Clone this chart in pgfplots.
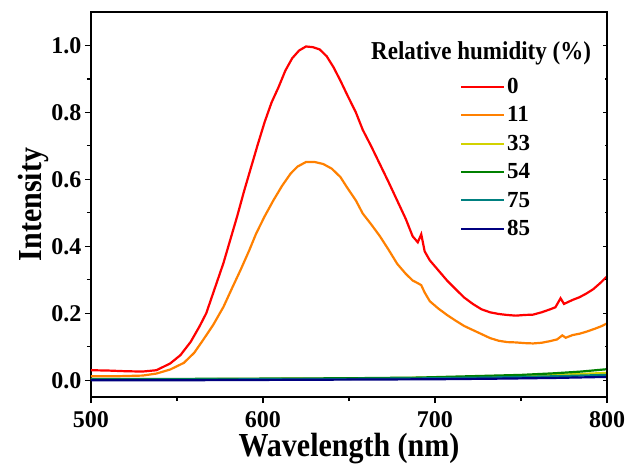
\documentclass[border=0pt]{standalone}
\usepackage{fontspec}
\setmainfont{Liberation Serif}
\usepackage{graphicx}
\usepackage{pgfplots}
\pgfplotsset{compat=1.18}
\definecolor{rh0}{RGB}{255,0,0}
\definecolor{rh11}{RGB}{255,128,0}
\definecolor{rh33}{RGB}{210,210,0}
\definecolor{rh54}{RGB}{0,128,0}
\definecolor{rh75}{RGB}{0,128,128}
\definecolor{rh85}{RGB}{0,0,128}

\pgfplotstableread{
x y
500 0.030
510 0.029
520 0.027
530 0.026
538 0.030
546 0.050
552 0.075
558 0.115
563 0.160
567 0.200
572 0.275
577 0.350
581 0.420
585 0.490
589 0.565
593 0.635
597 0.705
601 0.772
605 0.830
609 0.875
613 0.925
617 0.962
621 0.985
625 0.997
629 0.995
633 0.988
637 0.968
641 0.935
645 0.895
649 0.852
654 0.800
658 0.748
663 0.698
668 0.645
673 0.592
678 0.537
683 0.482
687 0.430
690 0.412
692 0.436
694 0.385
697 0.358
702 0.328
707 0.298
712 0.272
717 0.247
722 0.228
727 0.212
732 0.203
737 0.198
742 0.195
747 0.193
752 0.195
757 0.196
762 0.203
767 0.212
770 0.218
773 0.245
775 0.228
780 0.240
784 0.248
788 0.259
792 0.272
796 0.290
800 0.310
}\rhzero

\pgfplotstableread{
x y
500 0.012
515 0.012
530 0.014
538 0.020
546 0.032
554 0.052
560 0.082
565 0.119
571 0.165
577 0.219
582 0.275
587 0.330
592 0.388
596 0.438
601 0.490
606 0.537
611 0.580
616 0.617
620 0.638
625 0.652
630 0.652
635 0.646
640 0.632
645 0.607
649 0.575
654 0.537
658 0.498
663 0.465
668 0.430
673 0.390
678 0.348
683 0.318
687 0.298
690 0.290
692 0.284
694 0.262
697 0.236
702 0.214
707 0.195
712 0.178
717 0.162
722 0.150
727 0.138
732 0.126
737 0.118
742 0.114
747 0.113
752 0.111
757 0.110
762 0.112
767 0.117
771 0.122
774 0.134
776 0.127
780 0.135
784 0.139
788 0.145
793 0.154
797 0.162
800 0.170
}\rhelf

\pgfplotstableread{
x y
500 0.003
550 0.003
600 0.004
650 0.005
700 0.008
730 0.010
760 0.014
780 0.018
800 0.022
}\rhdrei

\pgfplotstableread{
x y
500 0.004
550 0.004
600 0.005
650 0.006
690 0.008
720 0.012
750 0.016
770 0.021
785 0.026
800 0.033
}\rhvier

\pgfplotstableread{
x y
500 0.002
550 0.002
600 0.003
650 0.004
700 0.006
740 0.009
770 0.012
800 0.016
}\rhfuenf

\pgfplotstableread{
x y
500 0.000
550 0.000
600 0.001
650 0.002
700 0.003
740 0.005
770 0.007
800 0.010
}\rhsechs

\begin{document}
\begin{tikzpicture}
\pgfplotsset{
  base/.style={
    scale only axis, width=516pt, height=385pt,
    xmin=500, xmax=800, ymin=-0.05, ymax=1.1,
    ytick={0,0.2,0.4,0.6,0.8,1.0},
    minor ytick={0.1,0.3,0.5,0.7,0.9},
    axis line style={line width=1.1pt},
    tick style={line width=1.1pt, black},
  }
}
\begin{axis}[
  base,
  xtick={500,600,700,800},
  minor xtick={550,650,750},
  tick align=outside,
  xtick pos=bottom, ytick pos=left,
  major tick length=6pt, minor tick length=4pt,
  /pgf/number format/assume math mode=true,
  yticklabel style={/pgf/number format/.cd, fixed, fixed zerofill, precision=1},
  xticklabel style={yshift=-5pt, /pgf/number format/.cd, fixed, set thousands separator={}},
  ticklabel style={font=\bfseries\fontsize{24}{24}\selectfont},
  xlabel={\scalebox{1}[1.12]{Wavelength (nm)}},
  ylabel={\scalebox{1}[1.12]{Intensity}},
  label style={font=\bfseries\fontsize{30}{30}\selectfont},
  xlabel style={yshift=1pt},
  ylabel style={yshift=-4pt},
  legend style={
    at={(rel axis cs:0.715,0.834)}, anchor=north west,
    draw=none, fill=none, inner sep=0pt,
    font=\bfseries\fontsize{23}{23}\selectfont,
    row sep=7.8pt,
    /tikz/every even column/.append style={column sep=0pt},
  },
  legend cell align=left,
  legend image code/.code={
    \draw[#1, line width=2pt] (0pt,0pt) -- (43pt,0pt);
  },
]
\addplot[rh0, line width=2.2pt] table {\rhzero};
\addplot[rh11, line width=2.2pt] table {\rhelf};
\addplot[rh33, line width=2.2pt] table {\rhdrei};
\addplot[rh54, line width=2.2pt] table {\rhvier};
\addplot[rh75, line width=2.2pt] table {\rhfuenf};
\addplot[rh85, line width=2.2pt] table {\rhsechs};
\legend{0,11,33,54,75,85}
\node[anchor=center, font=\bfseries\fontsize{23}{23}\selectfont]
  at (rel axis cs:0.756,0.893) {\scalebox{1}[1.12]{Relative humidity (\%)}};
\end{axis}
\begin{axis}[
  base,
  hide x axis,
  axis y line*=right,
  tick align=inside,
  yticklabels={},
  major tick length=4pt, minor tick length=2.5pt,
]
\end{axis}
\path (current axis.south west) ++(-91pt,-71pt) rectangle ++(629pt,468pt);
\end{tikzpicture}
\end{document}
